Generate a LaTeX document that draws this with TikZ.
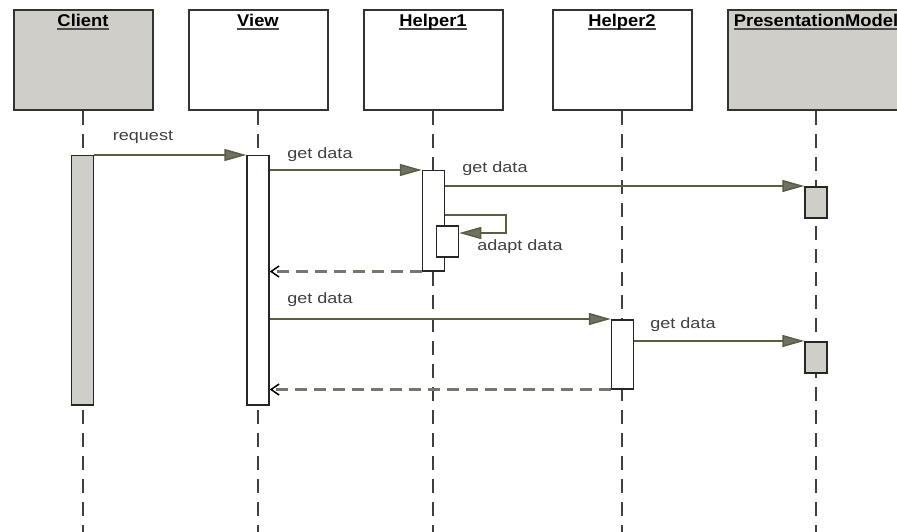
\documentclass[tikz,border=0pt]{standalone}
\usepackage{fontspec}
\setmainfont{Liberation Sans}
\newfontfamily\msgfont[FakeStretch=1.2]{Liberation Sans}
\newfontfamily\objfont[FakeStretch=1.08]{Liberation Sans}
\usepackage{tikz}
\usetikzlibrary{arrows.meta, positioning, calc}
\definecolor{objgray}{RGB}{207,206,200}
\definecolor{msgline}{RGB}{92,92,64}
\definecolor{headgray}{RGB}{112,112,102}
\definecolor{retgray}{RGB}{118,118,112}
\newcommand{\objname}[1]{\setbox0\hbox{#1}\rlap{\color{black!70}\rule[-3.5pt]{\wd0}{1.8pt}}\box0}

\begin{document}
\begin{tikzpicture}[x=1pt, y=-1pt,
    obj/.style={rectangle, draw=black!80, line width=2pt, fill=white,
                minimum width=139pt, minimum height=100pt, inner sep=0pt},
    objtitle/.style={anchor=north, inner sep=5pt, font=\objfont\bfseries\fontsize{17}{20}\selectfont},
    bar/.style={rectangle, draw=black!85, line width=1.5pt, fill=white,
                minimum width=22pt, inner sep=0pt, anchor=north},
    life/.style={draw=black!75, line width=1.6pt, dash pattern=on 14pt off 9pt},
    msg/.style={draw=msgline, line width=1.5pt,
                -{Triangle[length=22pt, width=12pt, fill=headgray]}},
    ret/.style={draw=retgray, line width=2.5pt, dash pattern=on 12pt off 7pt,
                -{Straight Barb[length=8pt, width=11pt, line width=1.5pt, color=black]}},
    lbl/.style={font=\msgfont\fontsize{15}{18}\selectfont, text=black!75, inner sep=0pt}
]
\useasboundingbox (0,0) rectangle (897,532);
\clip (0,0) rectangle (897,532);
% object boxes
\node[obj, fill=objgray] (client) at (83,60) {};
\node[obj] (view)   at (258,60) {};
\node[obj] (helper1) at (433,60) {};
\node[obj] (helper2) at (622,60) {};
\node[obj, fill=objgray, minimum width=176pt] (pmodel) at (816,60) {};
\node[objtitle] (clientt)  at (client.north)  {\objname{Client}};
\node[objtitle] (viewt)    at (view.north)    {\objname{View}};
\node[objtitle] (helper1t) at (helper1.north) {\objname{Helper1}};
\node[objtitle] (helper2t) at (helper2.north) {\objname{Helper2}};
\node[objtitle] (pmodelt)  at (pmodel.north)  {\objname{PresentationModel}};
% lifelines
\foreach \o in {client, view, helper1, helper2, pmodel}
    \draw[life] (\o.south) -- ++(0,430);
% activation bars
\node[bar, fill=objgray, minimum height=249pt] (cbar) at (82.5,155) {};
\node[bar, minimum height=249pt] (vbar)  at (258,155) {};
\node[bar, minimum height=100pt] (h1bar) at (433.5,170) {};
\node[bar, minimum height=31pt]  (h1sub) at (447.5,225) {};
\node[bar, fill=objgray, minimum height=31pt] (pm1) at (816,186) {};
\node[bar, minimum height=69pt]  (h2bar) at (622.5,319) {};
\node[bar, fill=objgray, minimum height=31pt] (pm2) at (816,341) {};
% messages
\draw[msg] (cbar.north east) -- (vbar.north west);
\draw[msg] (vbar.east |- h1bar.north) -- (h1bar.north west);
\draw[msg] (h1bar.east |- pm1.north) -- (pm1.north west);
\coordinate (loop) at (506,233);
\draw[msg] ([yshift=10pt]h1sub.north -| h1bar.east) -| (loop) -- (h1sub.east |- loop);
\draw[ret] (h1bar.south west) -- (vbar.east |- h1bar.south);
\draw[msg] (vbar.east |- h2bar.north) -- (h2bar.north west);
\draw[msg] (h2bar.east |- pm2.north) -- (pm2.north west);
\draw[ret] (h2bar.south west) -- (vbar.east |- h2bar.south);
% message labels
\node[lbl] (req)   at (143,137) {request};
\node[lbl] (gd1)   at (320,155) {get data};
\node[lbl] (gd2)   at (495,169) {get data};
\node[lbl] (adapt) at (520,247) {adapt data};
\node[lbl] (gd3)   at (320,300) {get data};
\node[lbl] (gd4)   at (683,325) {get data};
\end{tikzpicture}
\end{document}
